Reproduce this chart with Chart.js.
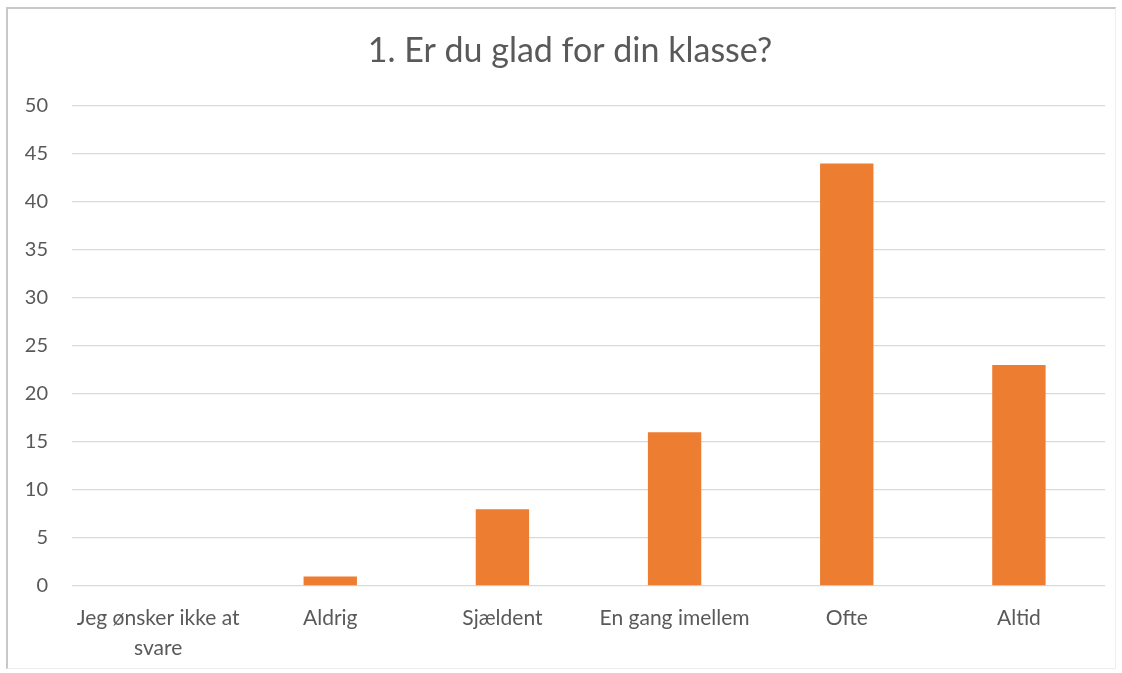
<!DOCTYPE html>
<html>
<head>
<meta charset="utf-8">
<script src="https://cdn.jsdelivr.net/npm/chart.js@4/dist/chart.umd.min.js"></script>
<style>
html,body{margin:0;padding:0;background:#fff;}
#wrap{position:absolute;left:0;top:0;width:1122px;height:673px;}
#frame{position:absolute;left:6px;top:7px;width:1110px;height:662px;border-top:2px solid #c8c8c8;border-left:2px solid #c8c8c8;border-right:1px solid #eeeeee;border-bottom:1px solid #eeeeee;box-sizing:border-box;}
canvas{position:absolute;left:0;top:0;}
</style>
</head>
<body>
<div id="wrap"><div id="frame"></div><canvas id="c" width="1122" height="673"></canvas></div>
<script>
const categories = [["Jeg ønsker ikke at", "svare"], "Aldrig", "Sjældent", "En gang imellem", "Ofte", "Altid"];
const values = [0, 1, 8, 16, 44, 23];
const yTicks = [0, 5, 10, 15, 20, 25, 30, 35, 40, 45, 50];
const titleText = "1. Er du glad for din klasse?";

const FONT = "Lato, 'Open Sans', sans-serif";
const shiftTitle = {
  id: 'shiftTitle',
  afterLayout(chart) {
    if (chart.titleBlock) { chart.titleBlock.left = 35; chart.titleBlock.right = 1105; }
  }
};
new Chart(document.getElementById('c'), {
  type: 'bar',
  data: {
    labels: categories,
    datasets: [{
      data: values,
      backgroundColor: '#ED7D31',
      borderWidth: 0,
      barPercentage: 0.31,
      categoryPercentage: 1.0
    }]
  },
  plugins: [shiftTitle],
  options: {
    responsive: false,
    animation: false,
    devicePixelRatio: 1,
    layout: { padding: { top: 0, left: 0, right: 17, bottom: 0 } },
    plugins: {
      legend: { display: false },
      tooltip: { enabled: false },
      title: {
        display: true,
        text: titleText,
        color: '#595959',
        font: { family: FONT, size: 34, weight: 'normal' },
        lineHeight: 1.2,
        padding: { top: 31, bottom: 34 }
      }
    },
    scales: {
      x: {
        grid: { display: false, drawTicks: false },
        border: { display: false },
        ticks: {
          color: '#595959',
          font: { family: FONT, size: 21, lineHeight: 1.43 },
          padding: 17,
          maxRotation: 0,
          autoSkip: false
        },
        afterFit: s => { s.height = 87; }
      },
      y: {
        min: 0, max: 50,
        afterBuildTicks: s => { s.ticks = yTicks.map(v => ({ value: v })); },
        grid: { color: '#d9d9d9', lineWidth: 1.3, drawTicks: false },
        border: { display: false },
        ticks: {
          color: '#595959',
          font: { family: FONT, size: 20 },
          padding: 24
        },
        afterFit: s => { s.width = 72; }
      }
    }
  }
});
</script>
</body>
</html>
